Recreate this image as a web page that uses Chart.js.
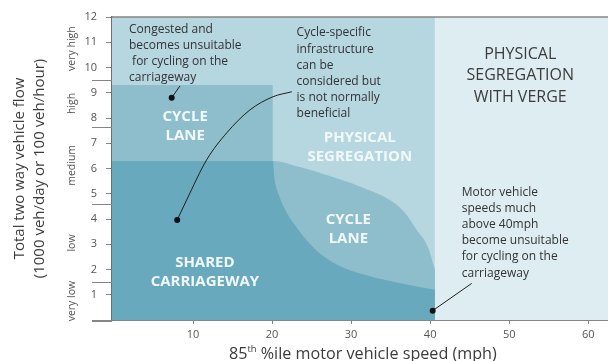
<!DOCTYPE html>
<html>
<head>
<meta charset="utf-8">
<script src="https://cdn.jsdelivr.net/npm/chart.js@4.4.1/dist/chart.umd.min.js"></script>
<style>
  html, body { margin: 0; padding: 0; background: #fff; }
  canvas { display: block; }
</style>
</head>
<body>
<canvas id="grafico" width="608" height="361"></canvas>
<script>
// axis ticks
const xTicks = [10, 20, 30, 40, 50, 60];
const yTicks = [1, 2, 3, 4, 5, 6, 7, 8, 9, 10, 11, 12];
const xMin = -0.25;
const xMax = 62.5;
const yMax = 12;

// flow bands written beside the y axis
const flowBands = ['very low', 'low', 'medium', 'high', 'very high'];
const flowBandLimits = [0, 1.5, 4.6, 7.65, 9.5, 12];

// region outlines (speed mph, flow)
const speedLimit = 40.6;
const cycleLaneTop = 9.31;
const boxRight = 20.1;

// upper edge of the cycle lane below the box, then curving down
const lensX = [xMin, 20.1, 23.4, 27.6, 31, 34.9, 36.8, 38.3, 39.7, 40.6];
const lensY = [6.3, 6.3, 6.07, 5.67, 5.3, 4.75, 4.25, 3.56, 2.9, 2.0];

// upper edge of the shared carriageway
const sharedX = [xMin, 20.1, 20.3, 20.8, 21.6, 22.8, 24.4, 26.4, 28.8, 31.6, 34.8, 38, 40.6];
const sharedY = [6.3, 6.3, 5.6, 5.0, 4.4, 3.8, 3.15, 2.55, 2.1, 1.8, 1.55, 1.35, 1.2];

// pointers from the notes
const leader1X = [7.3, 8.35];
const leader1Y = [8.8, 9.27];
const leader2X = [8.0, 9.19, 11.72, 14.26, 17.2, 20.1, 22.5];
const leader2Y = [3.96, 4.75, 6.34, 7.41, 8.32, 8.84, 9.04];
const leader3X = [40.32, 45.26];
const leader3Y = [0.37, 1.45];
const dotsX = [7.3, 8.0, 40.32];
const dotsY = [8.8, 3.96, 0.37];

// texts
const noteCongested = ['Congested and', 'becomes unsuitable', ' for cycling on the', 'carriageway'];
const noteInfra = ['Cycle-specific', 'infrastructure', 'can be', 'considered but', 'is not normally', 'beneficial'];
const noteSpeed = ['Motor vehicle', 'speeds much', 'above 40mph', 'become unsuitable', 'for cycling on the', 'carriageway'];
const labelCycleLane = ['CYCLE', 'LANE'];
const labelPhysical = ['PHYSICAL', 'SEGREGATION'];
const labelShared = ['SHARED', 'CARRIAGEWAY'];
const labelVerge = ['PHYSICAL', 'SEGREGATION', 'WITH VERGE'];
const yTitle = ['Total two way vehicle flow', '(1000 veh/day or 100 veh/hour)'];
const xTitle = ['85', 'th', ' %ile motor vehicle speed (mph)'];

const fuente = "'Open Sans', 'Noto Sans', sans-serif";
const colorClaro = '#deedf2';
const colorBanda = '#b6d6e0';
const colorMedio = '#8ebdcc';
const colorOscuro = '#68a9bd';
const colorEje = '#858585';

const puntos = (xs, ys) => xs.map((x, i) => ({ x, y: ys[i] }));

const zona = (data, color, order, curva) => ({
    data,
    backgroundColor: color,
    borderWidth: 0,
    pointRadius: 0,
    fill: 'start',
    order,
    cubicInterpolationMode: curva ? 'monotone' : 'default',
    tension: 0
});

const linea = (data, order) => ({
    data,
    borderColor: '#1e1e1e',
    borderWidth: 1,
    pointRadius: 0,
    fill: false,
    order,
    cubicInterpolationMode: 'monotone'
});

const textos = {
    id: 'textos',
    afterDatasetsDraw(chart) {
        const { ctx, scales: { x, y } } = chart;

        const bloque = (lineas, vx, vy, alto, font, color, align) => {
            ctx.save();
            ctx.font = font;
            ctx.fillStyle = color;
            ctx.textAlign = align;
            ctx.textBaseline = 'middle';
            lineas.forEach((t, i) => {
                ctx.fillText(t, x.getPixelForValue(vx), y.getPixelForValue(vy) + i * alto);
            });
            ctx.restore();
        };

        const nota = `12px ${fuente}`;
        bloque(noteCongested, 1.9, 11.52, 16.3, nota, '#333', 'left');
        bloque(noteInfra, 23.1, 11.37, 16.2, nota, '#333', 'left');
        bloque(noteSpeed, 44.0, 5.06, 16.2, nota, '#333', 'left');

        const rotulo = `bold 15px ${fuente}`;
        const blanco = '#f2f8fa';
        bloque(labelCycleLane, 9.0, 8.05, 18.5, rotulo, blanco, 'center');
        bloque(labelPhysical, 31.1, 7.2, 19, rotulo, blanco, 'center');
        bloque(labelCycleLane, 29.65, 3.96, 19, rotulo, blanco, 'center');
        bloque(labelShared, 11.5, 2.27, 19, rotulo, blanco, 'center');
        bloque(labelVerge, 51.4, 10.53, 21.7, `16px ${fuente}`, '#3c3c3c', 'center');
    },
    afterDraw(chart) {
        const { ctx, chartArea, scales: { y } } = chart;

        // top border of the plot
        ctx.save();
        ctx.strokeStyle = colorEje;
        ctx.lineWidth = 1.5;
        ctx.beginPath();
        ctx.moveTo(chartArea.left, chartArea.top);
        ctx.lineTo(chartArea.right, chartArea.top);
        ctx.stroke();

        // flow band separators and names
        flowBandLimits.slice(0, -1).forEach((v, i) => {
            const py = i === 0 ? chartArea.bottom + 1 : Math.round(y.getPixelForValue(v)) + 0.5;
            ctx.lineWidth = i === 0 ? 2 : 1;
            ctx.beginPath();
            ctx.moveTo(92, py);
            ctx.lineTo(chartArea.left, py);
            ctx.stroke();
        });
        ctx.fillStyle = '#555';
        ctx.font = `10.5px ${fuente}`;
        ctx.textAlign = 'center';
        ctx.textBaseline = 'middle';
        flowBands.forEach((t, i) => {
            const py = y.getPixelForValue((flowBandLimits[i] + flowBandLimits[i + 1]) / 2);
            ctx.save();
            ctx.translate(72, py);
            ctx.rotate(-Math.PI / 2);
            ctx.fillText(t, 0, 0);
            ctx.restore();
        });

        // x title with superscript, sized to the width it has in the figure
        const medir = size => {
            ctx.font = `${size}px ${fuente}`;
            const a = ctx.measureText(xTitle[0]).width + ctx.measureText(xTitle[2]).width;
            ctx.font = `${size * 0.58}px ${fuente}`;
            return a + ctx.measureText(xTitle[1]).width;
        };
        const size = 15.5 * 268 / medir(15.5);
        const grande = `${size}px ${fuente}`;
        const chico = `${size * 0.58}px ${fuente}`;
        ctx.fillStyle = '#3c3c3c';
        ctx.textAlign = 'left';
        ctx.textBaseline = 'alphabetic';
        let px = 229;
        const base = 358.5;
        ctx.font = grande;
        ctx.fillText(xTitle[0], px, base);
        px += ctx.measureText(xTitle[0]).width;
        ctx.font = chico;
        ctx.fillText(xTitle[1], px, base - size * 0.4);
        px += ctx.measureText(xTitle[1]).width;
        ctx.font = grande;
        ctx.fillText(xTitle[2], px, base);
        ctx.restore();
    }
};

const grafico = new Chart(document.getElementById('grafico'), {
    type: 'line',
    data: {
        datasets: [
            zona(puntos([speedLimit, xMax], [yMax, yMax]), colorClaro, 10, false),
            zona(puntos([xMin, speedLimit], [yMax, yMax]), colorBanda, 9, false),
            zona(puntos([xMin, boxRight], [cycleLaneTop, cycleLaneTop]), colorMedio, 8, false),
            zona(puntos(lensX, lensY), colorMedio, 7, true),
            zona(puntos(sharedX, sharedY), colorOscuro, 5, true),
            linea(puntos(leader1X, leader1Y), 4),
            linea(puntos(leader2X, leader2Y), 3),
            linea(puntos(leader3X, leader3Y), 2),
            {
                data: puntos(dotsX, dotsY),
                showLine: false,
                pointRadius: 3,
                pointBackgroundColor: '#111',
                pointBorderWidth: 0,
                order: 1
            }
        ]
    },
    options: {
        responsive: false,
        animation: false,
        devicePixelRatio: 1,
        layout: { autoPadding: false, padding: { top: 17, left: 0, right: 0, bottom: 0 } },
        plugins: {
            legend: { display: false },
            tooltip: { enabled: false }
        },
        scales: {
            x: {
                type: 'linear',
                min: xMin,
                max: xMax,
                afterFit: s => { s.height = 41; },
                afterBuildTicks: s => { s.ticks = xTicks.map(v => ({ value: v })); },
                grid: { drawOnChartArea: false, tickLength: 4, color: colorEje },
                border: { color: colorEje, width: 2 },
                ticks: { color: '#555', font: { family: fuente, size: 11 }, padding: 4, maxRotation: 0 }
            },
            y: {
                type: 'linear',
                min: 0,
                max: yMax,
                afterFit: s => { s.width = 112; },
                afterBuildTicks: s => { s.ticks = yTicks.map(v => ({ value: v })); },
                grid: { drawOnChartArea: false, tickLength: 6, color: colorEje },
                border: { color: '#6f6f6f', width: 1.5 },
                ticks: { color: '#555', font: { family: fuente, size: 11 }, padding: 9 },
                title: {
                    display: true,
                    text: yTitle,
                    color: '#3c3c3c',
                    font: { family: fuente, size: 15, lineHeight: 1.33 },
                    padding: { top: 10, bottom: 0 }
                }
            }
        }
    },
    plugins: [textos]
});
</script>
</body>
</html>
